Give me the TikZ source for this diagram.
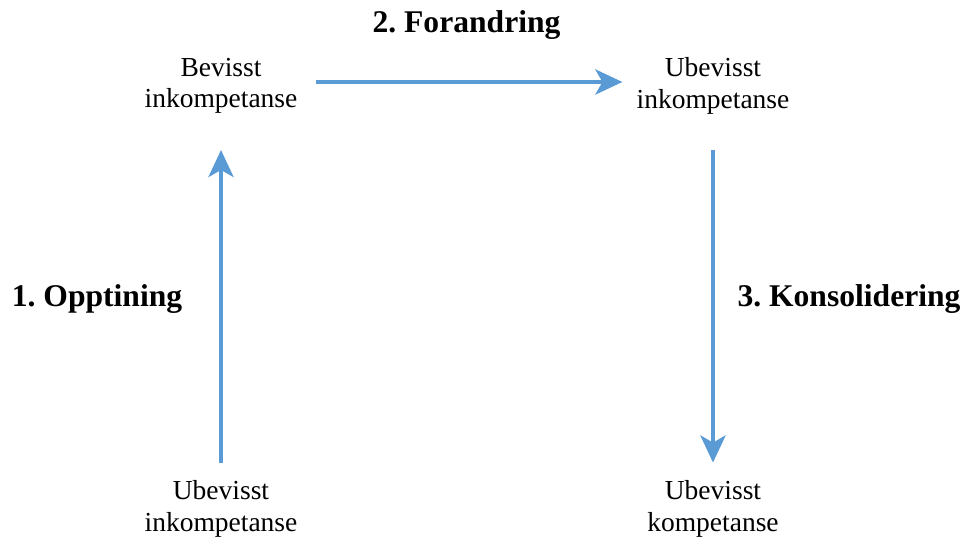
\documentclass[tikz,border=0pt]{standalone}
\usepackage{fontspec}
\setmainfont{Liberation Serif}
\usetikzlibrary{arrows.meta}
\definecolor{flowblue}{HTML}{5B9BD5}
\frenchspacing
\begin{document}
\begin{tikzpicture}[x=1bp,y=-1bp,
  state/.style={align=center,inner sep=0pt,font=\fontsize{27.5bp}{31.5bp}\selectfont},
  phase/.style={anchor=base,inner sep=0pt,font=\fontsize{31.6bp}{36bp}\selectfont\bfseries},
  flow/.style={draw=flowblue,line width=4.5bp,
    -{Stealth[length=27bp,width=25bp,inset=7bp]}}]
  \useasboundingbox (0,0) rectangle (962,539);

  % competence states
  \node[state] (tl) at (221,86)  {Bevisst\\inkompetanse};
  \node[state] (tr) at (713,86)  {Ubevisst\\inkompetanse};
  \node[state] (bl) at (221,509) {Ubevisst\\inkompetanse};
  \node[state] (br) at (713,509) {Ubevisst\\kompetanse};

  % phase labels
  \node[phase] (p1) at (97,306.5) {1. Opptining};
  \node[phase] (p2) at (466.5,33) {2. Forandring};
  \node[phase] (p3) at (849,307)  {3. Konsolidering};

  % transitions
  \draw[flow,shorten <=18bp,shorten >=36bp] (bl.north) -- (tl.south);
  \draw[flow,shorten <=18bp,shorten >=14bp]
    ([yshift=4bp]tl.east) -- ([yshift=4bp]tr.west);
  \draw[flow,shorten <=36bp,shorten >=18bp] (tr.south) -- (br.north);
\end{tikzpicture}
\end{document}
